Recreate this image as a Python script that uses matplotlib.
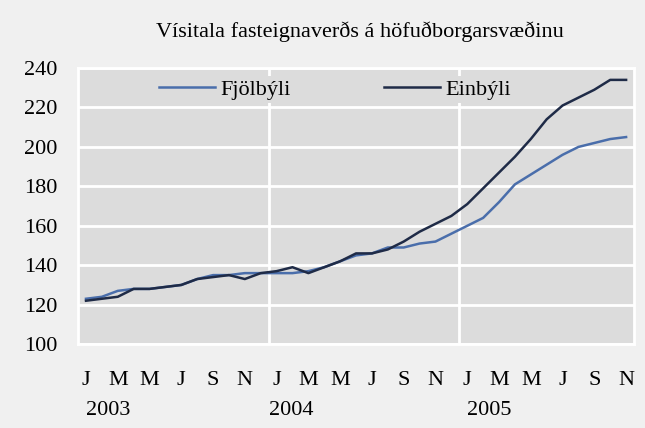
import numpy as np
import matplotlib
matplotlib.use('Agg')
import matplotlib.pyplot as plt
import matplotlib.transforms as mtransforms

# manaðarleg gildi, jan 2003 - nóv 2005
month_letters = ['J', 'F', 'M', 'A', 'M', 'J', 'J', 'A', 'S', 'O', 'N', 'D']
years = ['2003', '2004', '2005']
fjolbyli = [123, 124, 127, 128, 128, 129, 130, 133, 135, 135, 136, 136,
            136, 136, 137, 139, 142, 145, 146, 149, 149, 151, 152, 156,
            160, 164, 172, 181, 186, 191, 196, 200, 202, 204, 205]
einbyli = [122, 123, 124, 128, 128, 129, 130, 133, 134, 135, 133, 136,
           137, 139, 136, 139, 142, 146, 146, 148, 152, 157, 161, 165,
           171, 179, 187, 195, 204, 214, 221, 225, 229, 234, 234]

plt.rcParams['font.family'] = ['Liberation Serif', 'DejaVu Serif']
FS = 16

fig = plt.figure(figsize=(6.45, 4.28), dpi=100, facecolor='#f0f0f0')
ax = fig.add_axes([0.121, 0.196, 0.862, 0.645])
ax.set_facecolor('#dcdcdc')

x = np.arange(len(fjolbyli))
ax.plot(x, fjolbyli, color='#4a6eab', lw=1.8, label='Fjölbýli', zorder=3)
ax.plot(x, einbyli, color='#1f2b47', lw=1.8, label='Einbýli', zorder=3)

ax.set_xlim(-0.5, len(x) - 0.5)
ax.set_ylim(100, 240)
ax.set_yticks(range(100, 241, 20))
ax.grid(axis='y', color='white', lw=2)
for b in (11.5, 23.5):
    ax.axvline(b, color='white', lw=2, zorder=1)
ax.set_axisbelow(True)

for s in ax.spines.values():
    s.set_color('white')
    s.set_linewidth(2)

ticks = x[::2]
ax.set_xticks(ticks)
ax.set_xticklabels([month_letters[i % 12] for i in ticks])
ax.tick_params(length=0, labelsize=FS, colors='black')
ax.tick_params(axis='x', pad=19)
ax.tick_params(axis='y', pad=15)

trans = mtransforms.blended_transform_factory(ax.transData, ax.transAxes)
for k, (yr, off) in enumerate(zip(years, [1.4, 0.95, 1.4])):
    ax.text(12 * k + off, -0.24, yr, transform=trans, ha='center', va='center',
            fontsize=FS)

ax.legend(loc='upper center', bbox_to_anchor=(0.462, 1.0), ncol=2, frameon=True,
          facecolor='#dcdcdc', edgecolor='none', framealpha=1, fontsize=FS,
          handlelength=2.5, handletextpad=0.25, columnspacing=4.2,
          borderpad=0.15, borderaxespad=0.35)

fig.text(0.558, 0.925, 'Vísitala fasteignaverðs á höfuðborgarsvæðinu',
         ha='center', va='center', fontsize=FS)

fig.savefig('out.png', dpi=100, facecolor=fig.get_facecolor())
